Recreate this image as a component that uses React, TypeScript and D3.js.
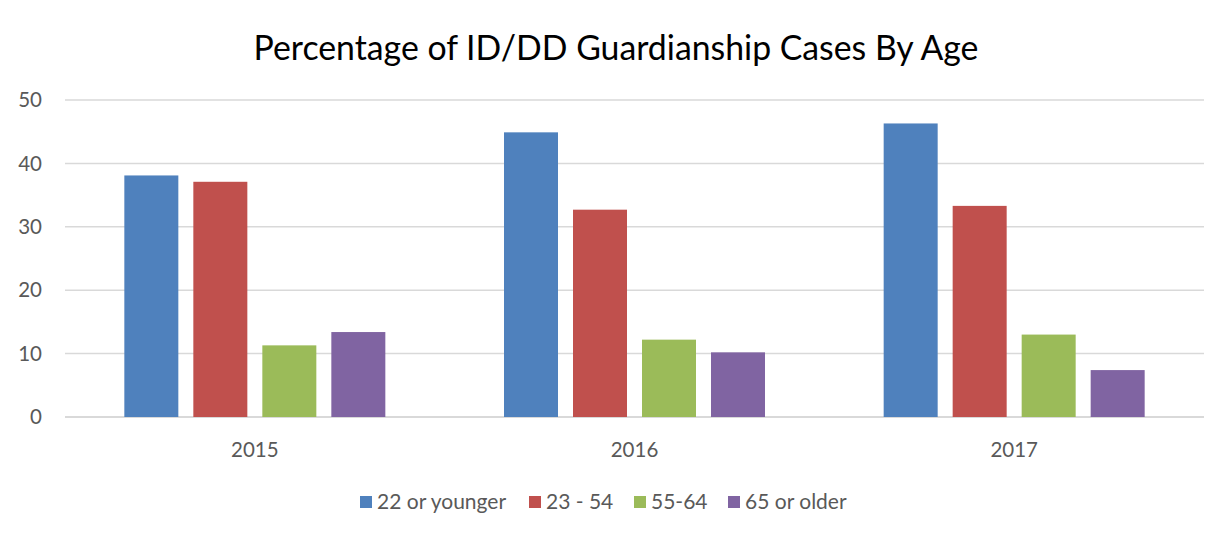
import React from 'react';
import * as d3 from 'd3';

const years = ['2015', '2016', '2017'];
const seriesNames = ['22 or younger', '23 - 54', '55-64', '65 or older'];
const seriesColors = ['#4f81bd', '#c0504d', '#9bbb59', '#8064a2'];
const young = [38.1, 44.9, 46.3];
const middle = [37.1, 32.7, 33.3];
const senior = [11.3, 12.2, 13.0];
const old = [13.4, 10.2, 7.4];
const yTicks = [0, 10, 20, 30, 40, 50];

const W = 1232;
const H = 540;
const font = 'Lato, "Open Sans", sans-serif';

export default function App() {
  const values = [young, middle, senior, old];
  const plot = { left: 65, right: 1204, top: 100, bottom: 417 };

  const x = d3.scaleBand().domain(years).range([plot.left, plot.right]);
  const y = d3.scaleLinear().domain([0, 50]).range([plot.bottom, plot.top]);

  // bar 54px, gap 15px inside each 380px band
  const barW = 54;
  const step = 69;

  // legend layout
  const legendX = [360, 529, 634, 728];

  return (
    <div style={{ margin: -8 }}>
      <svg width={W} height={H} style={{ display: 'block', fontFamily: font }}>
        <rect x={0.5} y={0.5} width={W - 1} height={H - 1} fill="#fff" stroke="#d9d9d9" />
        <text x={616} y={60} textAnchor="middle" fontSize={33.8} fill="#000">
          Percentage of ID/DD Guardianship Cases By Age
        </text>
        {yTicks.map(t => (
          <g key={t}>
            <line x1={plot.left} x2={plot.right} y1={y(t)} y2={y(t)} stroke="#d9d9d9" strokeWidth={t === 0 ? 2 : 1.5} />
            <text x={42} y={y(t)} dy="0.35em" textAnchor="end" fontSize={20.5} fill="#595959">{t}</text>
          </g>
        ))}
        {years.map((yr, i) => {
          const cx = (x(yr) as number) + x.bandwidth() / 2;
          const start = cx - (step * 3 + barW) / 2;
          return (
            <g key={yr}>
              {values.map((s, j) => (
                <rect key={j} x={start + j * step} y={y(s[i])} width={barW}
                  height={y(0) - y(s[i])} fill={seriesColors[j]} />
              ))}
              <text x={cx} y={450} dy="0.35em" textAnchor="middle" fontSize={20.5} fill="#595959">{yr}</text>
            </g>
          );
        })}
        {seriesNames.map((n, j) => (
          <g key={n}>
            <rect x={legendX[j]} y={496} width={12} height={12} fill={seriesColors[j]} />
            <text x={legendX[j] + 17} y={502} dy="0.35em" fontSize={21} fill="#595959">{n}</text>
          </g>
        ))}
      </svg>
    </div>
  );
}
